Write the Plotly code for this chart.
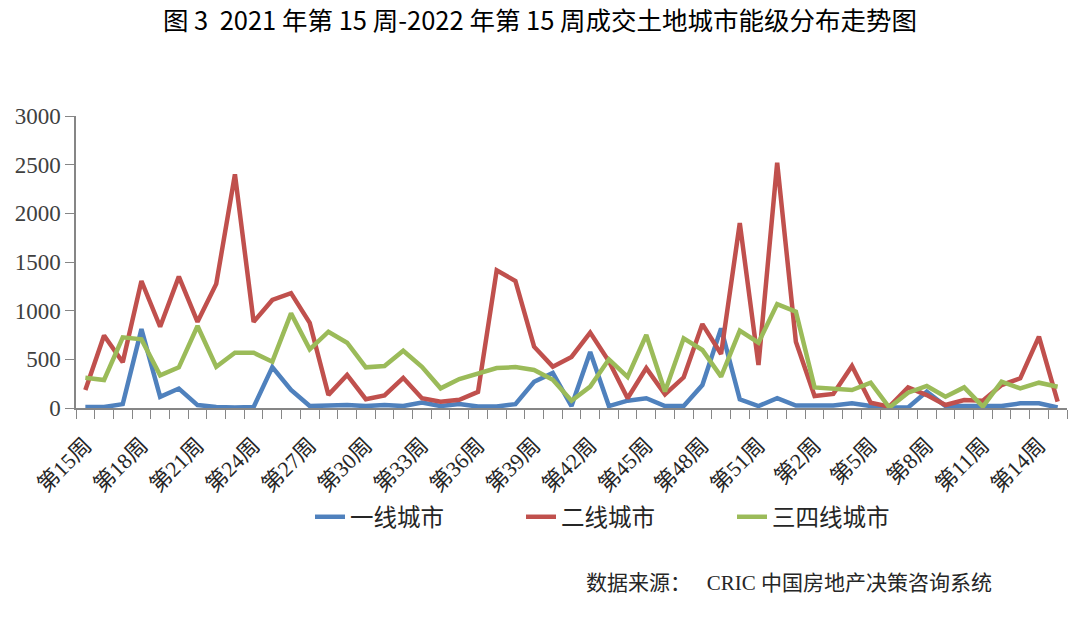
import plotly.graph_objects as go

weeks = ["第15周", "第16周", "第17周", "第18周", "第19周", "第20周", "第21周", "第22周", "第23周", "第24周",
         "第25周", "第26周", "第27周", "第28周", "第29周", "第30周", "第31周", "第32周", "第33周", "第34周",
         "第35周", "第36周", "第37周", "第38周", "第39周", "第40周", "第41周", "第42周", "第43周", "第44周",
         "第45周", "第46周", "第47周", "第48周", "第49周", "第50周", "第51周", "第52周", "第1周", "第2周",
         "第3周", "第4周", "第5周", "第6周", "第7周", "第8周", "第9周", "第10周", "第11周", "第12周",
         "第13周", "第14周", "第15周"]

tier1 = [10, 10, 40, 810, 115, 200, 30, 10, 5, 10,
         420, 185, 20, 30, 30, 20, 30, 20, 55, 20,
         40, 15, 15, 40, 270, 360, 20, 575, 20, 75,
         100, 20, 20, 236, 818, 89, 20, 100, 25, 25,
         25, 48, 20, 5, 5, 168, 20, 20, 20, 20,
         48, 48, 5]

tier2 = [185, 745, 470, 1305, 835, 1350, 885, 1275, 2400, 885,
         1110, 1180, 875, 135, 340, 90, 130, 310, 100, 65,
         85, 165, 1415, 1305, 630, 425, 525, 775, 480, 100,
         410, 140, 315, 862, 555, 1900, 442, 2520, 681, 123,
         144, 431, 55, 14, 212, 133, 31, 82, 75, 236,
         305, 733, 65]

tier34 = [311, 288, 726, 705, 336, 418, 842, 424, 568, 568,
          476, 972, 602, 784, 671, 418, 431, 589, 424, 202,
          298, 360, 410, 420, 390, 290, 75, 220, 500, 320,
          750, 170, 716, 596, 322, 794, 671, 1068, 989, 212,
          202, 185, 260, 5, 157, 226, 116, 212, 14, 270,
          202, 260, 219]

series_names = ["一线城市", "二线城市", "三四线城市"]
colors = ["#4F81BD", "#C0504D", "#9BBB59"]
y_ticks = [0, 500, 1000, 1500, 2000, 2500, 3000]

xs = list(range(len(weeks)))
label_idx = xs[::3]

FONT = "Liberation Serif, Noto Sans CJK SC, serif"

W, H = 1080, 618

fig = go.Figure()
for name, vals, col in zip(series_names, [tier1, tier2, tier34], colors):
    fig.add_trace(go.Scatter(x=xs, y=vals, name=name, mode="lines",
                             line=dict(color=col, width=4.5)))

fig.update_layout(
    width=W, height=H,
    paper_bgcolor="white", plot_bgcolor="white",
    margin=dict(l=76, r=13, t=116, b=210, autoexpand=False),
    title=dict(text="图 3  2021 年第 15 周-2022 年第 15 周成交土地城市能级分布走势图",
               xref="container", x=0.5, xanchor="center",
               yref="container", y=1 - 21 / H, yanchor="middle",
               font=dict(family="Noto Sans CJK SC", size=25.5, color="#000000")),
    showlegend=True,
    legend=dict(orientation="h", xref="paper", yref="paper",
                x=(310 - 76) / 991, xanchor="left",
                y=(408 - 517) / 292, yanchor="middle",
                font=dict(family=FONT, size=23.5, color="#262626"),
                entrywidth=166, entrywidthmode="pixels",
                bgcolor="rgba(0,0,0,0)"),
    annotations=[dict(text="数据来源：   CRIC 中国房地产决策咨询系统",
                      xref="paper", yref="paper",
                      x=(584 - 76) / 991, xanchor="left",
                      y=(408 - 583) / 292, yanchor="middle",
                      showarrow=False,
                      font=dict(family=FONT, size=21, color="#262626"))],
)

fig.update_xaxes(
    automargin=False,
    range=[-0.5, len(weeks) - 0.5],
    tickmode="array", tickvals=label_idx,
    ticktext=[weeks[i] for i in label_idx],
    tickangle=-45, ticks="", ticklabelstandoff=14,
    tickfont=dict(family=FONT, size=22, color="#262626"),
    showline=True, linecolor="#868686", linewidth=1.5,
    showgrid=False, zeroline=False,
    minor=dict(tickmode="array", tickvals=[i - 0.5 for i in range(len(weeks) + 1)],
               ticks="outside", ticklen=9, tickcolor="#868686", tickwidth=1.2,
               showgrid=False),
)

fig.update_yaxes(
    automargin=False,
    range=[0, 3000], tickmode="array", tickvals=y_ticks,
    ticks="outside", ticklen=9, tickcolor="#868686", tickwidth=1.2,
    tickfont=dict(family=FONT, size=23, color="#404040"),
    showline=True, linecolor="#868686", linewidth=1.5,
    showgrid=False, zeroline=False,
)

fig.write_html("out.html",
               config={"displayModeBar": False},
               post_script="document.body.style.margin='0';document.body.style.overflow='hidden';")
